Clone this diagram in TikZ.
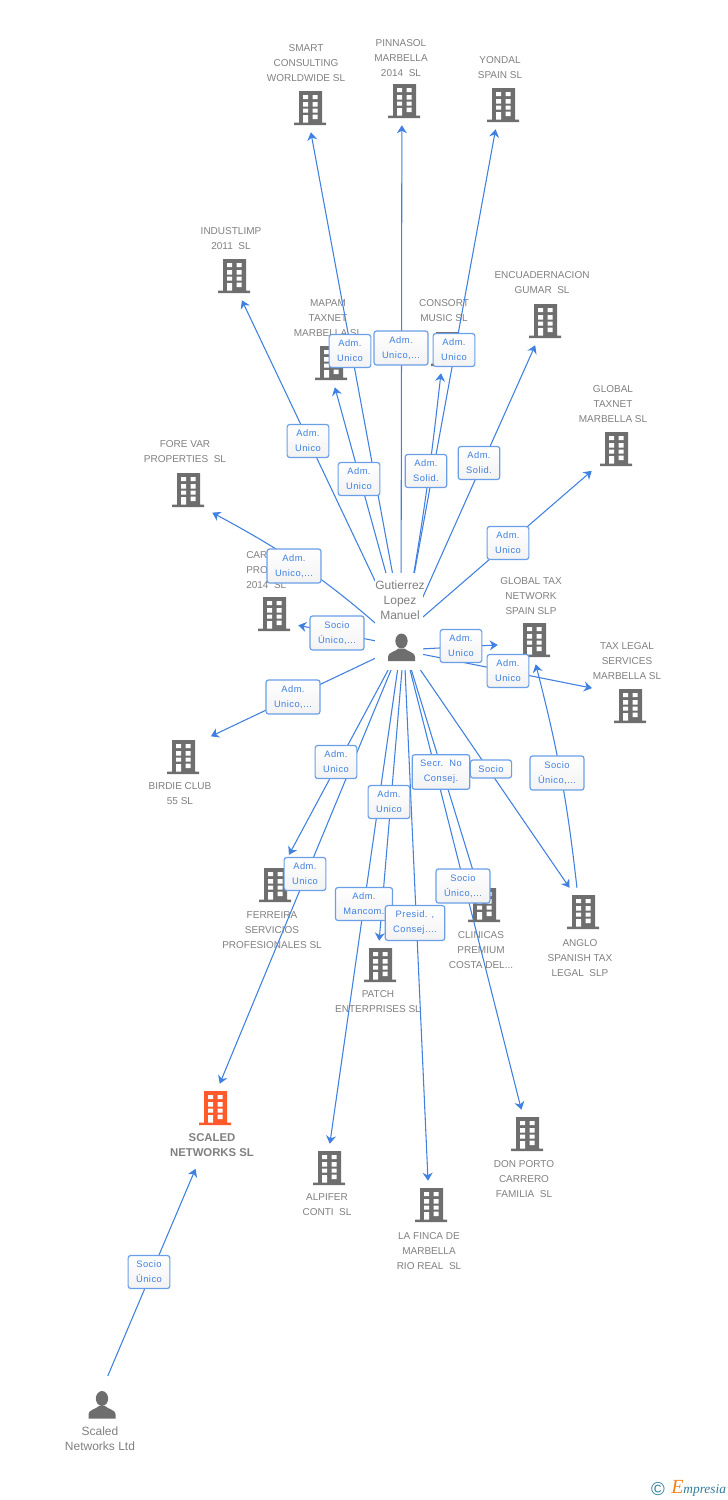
\documentclass[tikz,border=0pt]{standalone}
\usepackage{fontspec}
\setmainfont{Liberation Sans}
\newfontfamily\boxfont[LetterSpace=5]{Liberation Sans}
\newfontfamily\logofont{Liberation Serif}
\usetikzlibrary{arrows.meta}
\definecolor{bldgray}{HTML}{6E6E6E}
\definecolor{txtgray}{HTML}{808080}
\definecolor{linkblue}{HTML}{3F80E0}
\definecolor{boxblue}{HTML}{6A9FE8}
\definecolor{logoteal}{HTML}{2F7C99}
\definecolor{logoorange}{HTML}{F0821E}
\definecolor{scaledred}{HTML}{FF5A2C}
\tikzset{building/.style={minimum size=36pt,inner sep=0pt,path picture={
    \begin{scope}[shift={(path picture bounding box.center)}]
    \fill [#1] (-11,-17) rectangle (12,14.5) (-16,14.5) rectangle (16,17);
    \fill [white] (-7,-13) rectangle (-2,-9) (2.5,-13) rectangle (7.5,-9);
    \fill [white] (-7,-6) rectangle (-2,-1.5) (2.5,-6) rectangle (7.5,-1.5);
    \fill [white] (-7,0.5) rectangle (-2,4.5) (2.5,0.5) rectangle (7.5,4.5);
    \fill [white] (-7,7) rectangle (-2,14.5) (2.5,6.5) rectangle (7.5,11);
    \end{scope}}},building/.default=bldgray}
\tikzset{person/.style={minimum size=21pt,inner sep=0pt,path picture={
    \begin{scope}[shift={(path picture bounding box.center)}]
    \fill [bldgray] (0,-6.5) ellipse [x radius=4.6pt,y radius=5.6pt];
    \fill [bldgray] (-13.5,13.5) -- (-13.5,9) .. controls (-13.5,5) and (-6,4) .. (-3,1) -- (3,1) .. controls (6,4) and (13.5,5) .. (13.5,9) -- (13.5,13.5) -- cycle;
    \end{scope}}}}
\tikzset{coname/.style={text=txtgray,align=center,inner sep=0pt,yshift=-0.75pt,font=\fontsize{7.5}{11.25}\selectfont}}
\tikzset{who/.style={text=txtgray,align=center,inner sep=0pt,font=\fontsize{9}{11.25}\selectfont}}
\tikzset{link/.style={-{Stealth[length=6pt,width=7.5pt]},linkblue,line width=0.8pt}}
\tikzset{role/.style={draw=boxblue,line width=0.9pt,rounded corners=2pt,top color=white,bottom color=black!5,text=linkblue,align=center,inner xsep=6pt,inner ysep=4.2pt,font=\boxfont\fontsize{7}{11.25}\selectfont}}

\begin{document}
\begin{tikzpicture}[x=0.75pt,y=-0.75pt]
    \useasboundingbox (0,0) rectangle (728,1500);
    % companies
    \node [building] (smart) at (310,108) {};
    \node [coname] (smartname) at (306,62) {SMART\\CONSULTING\\WORLDWIDE SL};
    \node [building] (pinnasol) at (404,101) {};
    \node [coname] (pinnasolname) at (401,57) {PINNASOL\\MARBELLA\\2014~~SL};
    \node [building] (yondal) at (503,105) {};
    \node [coname] (yondalname) at (500,67) {YONDAL\\SPAIN SL};
    \node [building] (industlimp) at (234,276) {};
    \node [coname] (industlimpname) at (231,238) {INDUSTLIMP\\2011~~SL};
    \node [building] (encuadernacion) at (545,321) {};
    \node [coname] (encuadernacionname) at (542,282) {ENCUADERNACION\\GUMAR~~SL};
    \node [building] (taxnet) at (616,449) {};
    \node [coname] (taxnetname) at (613,403) {GLOBAL\\TAXNET\\MARBELLA SL};
    \node [building] (mapam) at (331,363) {};
    \node [coname] (mapamname) at (328,317) {MAPAM\\TAXNET\\MARBELLA SL};
    \node [building] (consort) at (447,349) {};
    \node [coname] (consortname) at (444,310) {CONSORT\\MUSIC SL};
    \node [building] (forevar) at (188,490) {};
    \node [coname] (forevarname) at (185,451) {FORE VAR\\PROPERTIES~~SL};
    \node [building] (car) at (274,614) {};
    \node [coname,anchor=west,align=left] (carname) at (246,569) {CAR\\PRO\\2014~~SL};
    \node [building] (birdie) at (183,757) {};
    \node [coname] (birdiename) at (180,793) {BIRDIE CLUB\\55 SL};
    \node [building] (ferreira) at (275,885) {};
    \node [coname] (ferreiraname) at (272,929) {FERREIRA\\SERVICIOS\\PROFESIONALES SL};
    \node [building] (patch) at (380,965) {};
    \node [coname] (patchname) at (378,1001) {PATCH\\ENTERPRISES SL};
    \node [building] (clinicas) at (484,905) {};
    \node [coname] (clinicasname) at (481,949) {CLINICAS\\PREMIUM\\COSTA DEL...};
    \node [building] (anglo) at (583,912) {};
    \node [coname] (angloname) at (580,957) {ANGLO\\SPANISH TAX\\LEGAL~~SLP};
    \node [building=scaledred] (scaled) at (215,1108) {};
    \node [coname,font=\bfseries\fontsize{8.5}{11.25}\selectfont] (scaledname) at (212,1144) {SCALED\\NETWORKS SL};
    \node [building] (alpifer) at (329,1168) {};
    \node [coname] (alpifername) at (327,1204) {ALPIFER\\CONTI~~SL};
    \node [building] (finca) at (431,1205) {};
    \node [coname] (fincaname) at (429,1250) {LA FINCA DE\\MARBELLA\\RIO REAL~~SL};
    \node [building] (donporto) at (527,1134) {};
    \node [coname] (donportoname) at (524,1178) {DON PORTO\\CARRERO\\FAMILIA~~SL};
    \node [building] (gtn) at (534,640) {};
    \node [coname] (gtnname) at (531,595) {GLOBAL TAX\\NETWORK\\SPAIN SLP};
    \node [building] (taxlegal) at (630,706) {};
    \node [coname] (taxlegalname) at (627,660) {TAX LEGAL\\SERVICES\\MARBELLA SL};
    % people
    \coordinate (gutierrez) at (401,646);
    \coordinate (gutierrezright) at (401,650);
    \coordinate (gutierrezlow) at (404,646);
    \coordinate (gutierreztop) at (406,646);
    \coordinate (gutierrezup) at (401,636);
    \node [person] (scaledltd) at (102,1405) {};
    \node [who] (scaledltdname) at (100,1439) {Scaled\\Networks Ltd};
    % connectors
    \foreach \s/\a/\b in {gutierreztop/smart/272.4,gutierrez/pinnasol/265.2,gutierrez/yondal/253.7,gutierreztop/industlimp/288.4,
        gutierreztop/mapam/279.5,gutierrez/encuadernacion/248.6,gutierrezup/taxnet/222.5,gutierrez/car/335.4,
        gutierrez/scaled/79,gutierrez/alpifer/88,gutierrezlow/patch/92,gutierrezlow/finca/97,gutierrezlow/donporto/103,
        gutierrezlow/clinicas/108,gutierrezlow/anglo/119}
        \draw [link] (\s) -- (\a.\b);
    \draw [link] (gutierrez) to [bend right=2] (consort.256);
    \draw [link] (gutierrez) to [bend right=7] (forevar.317.5);
    \draw [link,shorten >=3pt] (gutierrez) -- (birdie.38.4);
    \draw [link,shorten >=5pt] (gutierrez) -- (ferreira.66.4);
    \draw [link,shorten >=9pt] (gutierrezright) -- (gtn.190.4);
    \draw [link,shorten >=10.5pt] (gutierrezright) -- (taxlegal.148);
    \draw [link,shorten >=9.75pt,shorten <=12pt] (scaledltd.92) -- (scaledname.226);
    \draw [link] (anglo.104) to [bend right=4] (gtn.274.8);
    \node [fill=white,minimum width=36pt,minimum height=72.75pt,inner sep=0pt] (gutierrezmask) at (399,621) {};
    \node [who] (gutierrezname) at (400,600) {Gutierrez\\Lopez\\Manuel};
    \node [person] (gutierrezicon) at (401.5,647.5) {};
    % roles
    \node [role] (r1) at (350,351) {Adm.\\Unico};
    \node [role] (r2) at (401,348) {Adm.\\Unico,...};
    \node [role] (r3) at (454,350) {Adm.\\Unico};
    \node [role] (r4) at (308,441) {Adm.\\Unico};
    \node [role] (r5) at (359,479) {Adm.\\Unico};
    \node [role] (r6) at (426,471) {Adm.\\Solid.};
    \node [role] (r7) at (479,463) {Adm.\\Solid.};
    \node [role] (r8) at (508,543) {Adm.\\Unico};
    \node [role] (r9) at (294,566) {Adm.\\Unico,...};
    \node [role] (r10) at (337,633) {Socio\\Único,...};
    \node [role] (r11) at (461,646) {Adm.\\Unico};
    \node [role] (r12) at (508,671) {Adm.\\Unico};
    \node [role] (r13) at (293,697) {Adm.\\Unico,...};
    \node [role] (r14) at (336,762) {Adm.\\Unico};
    \node [role] (r15) at (389,802) {Adm.\\Unico};
    \node [role] (r16) at (441,772) {Secr.~~No\\Consej.};
    \node [role] (r17) at (491,769) {Socio};
    \node [role] (r18) at (557,773) {Socio\\Único,...};
    \node [role] (r19) at (305,874) {Adm.\\Unico};
    \node [role] (r20) at (364,904) {Adm.\\Mancom.};
    \node [role] (r21) at (415,923) {Presid. ,\\Consej....};
    \node [role] (r22) at (463,886) {Socio\\Único,...};
    \node [role] (r23) at (149,1272) {Socio\\Único};
    % logo
    \node [inner sep=0pt,text=logoteal,font=\fontsize{14}{14}\selectfont] (copyr) at (658,1489) {©};
    \node [inner sep=0pt,anchor=base west,font=\logofont\itshape\fontsize{10}{10}\selectfont,text=logoteal] (logo) at (671,1493) {\textcolor{logoorange}{\fontsize{15}{15}\selectfont E}mpresia};
\end{tikzpicture}
\end{document}
